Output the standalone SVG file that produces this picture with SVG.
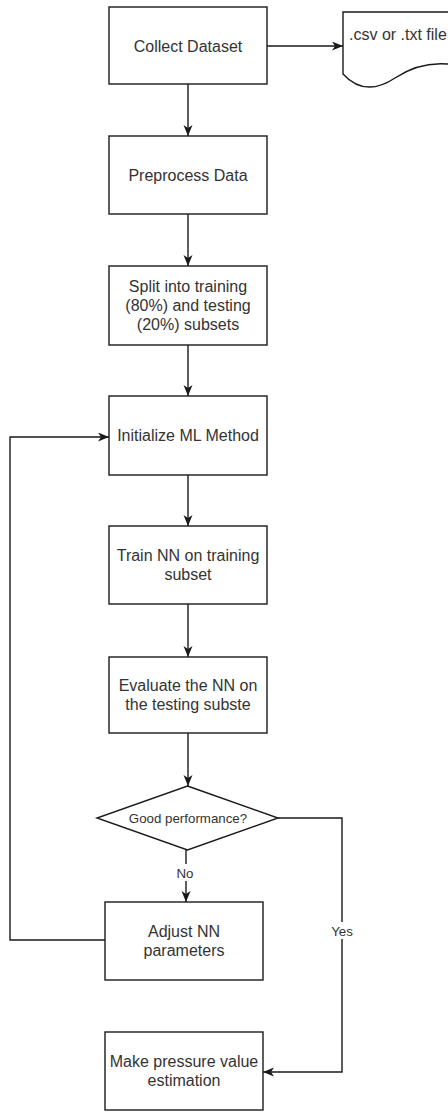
<svg xmlns="http://www.w3.org/2000/svg" width="448" height="1112" viewBox="0 0 448 1112">
<defs>
<marker id="arr" markerUnits="userSpaceOnUse" markerWidth="12" markerHeight="10" refX="11" refY="4.5" orient="auto">
<path d="M0,0 L11,4.5 L0,9 L3,4.5 Z" fill="#1a1a1a"/>
</marker>
<style>
.box{fill:#fff;stroke:#1a1a1a;stroke-width:1.4}
.t{font-family:"Liberation Sans",Arial,sans-serif;font-size:16px;fill:#333;text-anchor:middle}
.s{font-family:"Liberation Sans",Arial,sans-serif;font-size:13.3px;fill:#333;text-anchor:middle}
.c{fill:none;stroke:#1a1a1a;stroke-width:1.4}
.lbl{fill:#fff}
</style>
</defs>
<rect width="448" height="1112" fill="#fff"/>
<g id="connectors">
<path class="c" d="M267,46 H343" marker-end="url(#arr)"/>
<path class="c" d="M188,84 V136" marker-end="url(#arr)"/>
<path class="c" d="M188,214 V266" marker-end="url(#arr)"/>
<path class="c" d="M188,345 V396" marker-end="url(#arr)"/>
<path class="c" d="M188,475 V526" marker-end="url(#arr)"/>
<path class="c" d="M188,604 V657" marker-end="url(#arr)"/>
<path class="c" d="M188,733 V786" marker-end="url(#arr)"/>
<path class="c" d="M186,850 V902" marker-end="url(#arr)"/>
<path class="c" d="M278,818 H342 V1072 H263" marker-end="url(#arr)"/>
<path class="c" d="M105,940 H10 V437 H109" marker-end="url(#arr)"/>
<rect class="lbl" x="174" y="864" width="24" height="17"/>
<text class="s" x="185" y="877.5">No</text>
<rect class="lbl" x="329" y="922" width="27" height="17"/>
<text class="s" x="342" y="935.5">Yes</text>
</g>
<g id="collect">
<rect class="box" x="109" y="7" width="158" height="77"/>
<text class="t" x="188" y="51.5">Collect Dataset</text>
</g>
<g id="file">
<path class="box" d="M470,12 H343 V74 Q365,98 395,78 Q425,58 460,66 V12"/>
<text class="t" x="349" y="39.5" style="text-anchor:start">.csv or .txt file</text>
</g>
<g id="preprocess">
<rect class="box" x="109" y="136" width="158" height="78"/>
<text class="t" x="188" y="180.5">Preprocess Data</text>
</g>
<g id="split">
<rect class="box" x="109" y="266" width="158" height="79"/>
<text class="t" x="188" y="292">Split into training</text>
<text class="t" x="188" y="311">(80%) and testing</text>
<text class="t" x="188" y="330">(20%) subsets</text>
</g>
<g id="init">
<rect class="box" x="109" y="396" width="158" height="79"/>
<text class="t" x="188" y="441">Initialize ML Method</text>
</g>
<g id="train">
<rect class="box" x="109" y="526" width="158" height="78"/>
<text class="t" x="188" y="561">Train NN on training</text>
<text class="t" x="188" y="580">subset</text>
</g>
<g id="evaluate">
<rect class="box" x="109" y="657" width="158" height="76"/>
<text class="t" x="188" y="691">Evaluate the NN on</text>
<text class="t" x="188" y="710">the testing subste</text>
</g>
<g id="decision">
<polygon class="box" points="187.5,786 278,818 187.5,850 97,818"/>
<text class="s" x="188" y="823">Good performance?</text>
</g>
<g id="adjust">
<rect class="box" x="105" y="902" width="158" height="78"/>
<text class="t" x="184" y="937">Adjust NN</text>
<text class="t" x="184" y="956">parameters</text>
</g>
<g id="estimate">
<rect class="box" x="105" y="1032" width="158" height="78"/>
<text class="t" x="184" y="1067">Make pressure value</text>
<text class="t" x="184" y="1086">estimation</text>
</g>
</svg>
